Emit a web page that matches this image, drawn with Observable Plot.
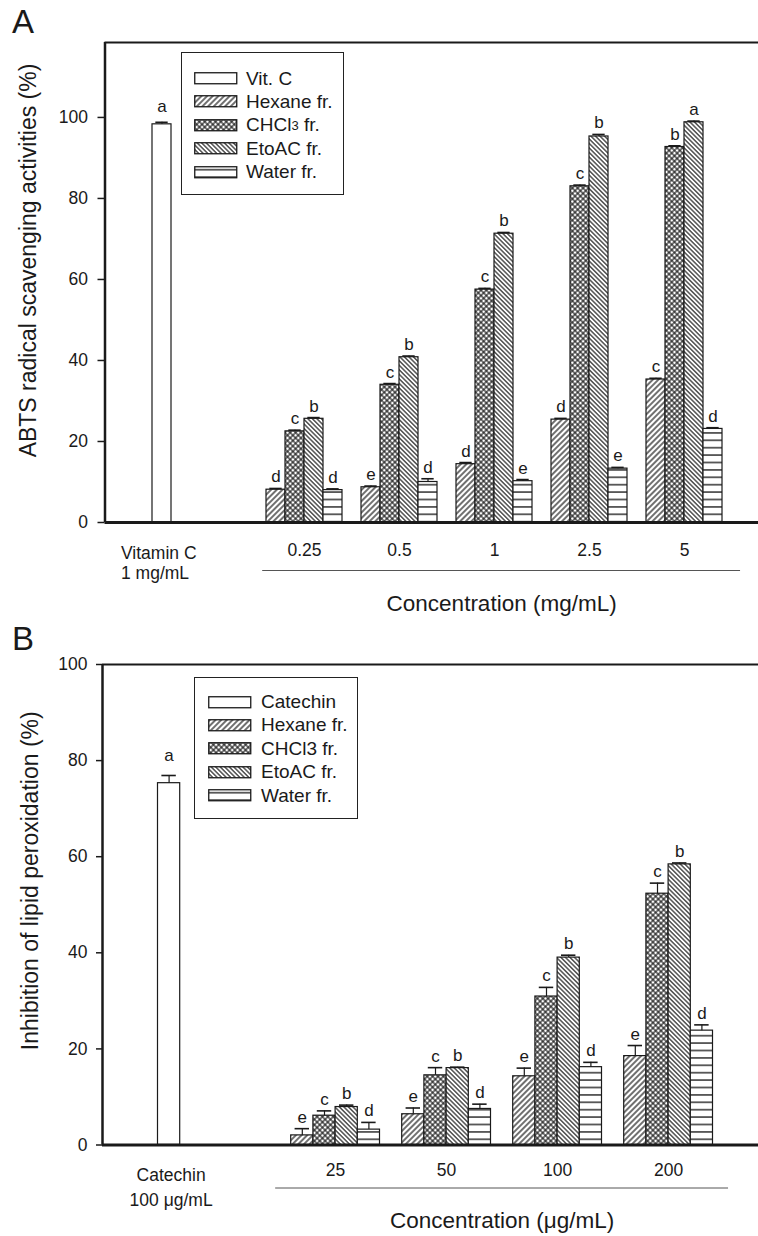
<!DOCTYPE html>
<html><head><meta charset="utf-8">
<script src="https://cdn.jsdelivr.net/npm/d3@7"></script>
<script src="https://cdn.jsdelivr.net/npm/@observablehq/plot@0.6"></script>
<style>
body{margin:0;background:#fff;font-family:"Liberation Sans",Arial,sans-serif;color:#1a1a1a}
#root{position:relative;width:758px;height:1236px;overflow:hidden;background:#fff}
.panel{position:absolute;left:0}
.plabel{position:absolute;left:12px;font-size:33px;line-height:33px}
.legend{position:absolute;border:1.5px solid #222;background:#fff;box-sizing:border-box}
.row{position:absolute;height:22px;display:flex;align-items:center;font-size:19px;white-space:nowrap}
.row svg{display:block}
</style></head><body>
<svg width="0" height="0" style="position:absolute">
<defs>
<pattern id="p-hex" patternUnits="userSpaceOnUse" width="4" height="4" patternTransform="rotate(45)">
<rect width="4" height="4" fill="#fff"/><line x1="2" y1="0" x2="2" y2="4" stroke="#111" stroke-width="1.2"/>
</pattern>
<pattern id="p-etoac" patternUnits="userSpaceOnUse" width="3.2" height="3.2" patternTransform="rotate(-45)">
<rect width="3.2" height="3.2" fill="#fff"/><line x1="1.6" y1="0" x2="1.6" y2="3.2" stroke="#111" stroke-width="1.1"/>
</pattern>
<pattern id="p-chcl3" patternUnits="userSpaceOnUse" width="3.8" height="3.8" patternTransform="rotate(45)">
<rect width="3.8" height="3.8" fill="#fff"/><line x1="1.9" y1="0" x2="1.9" y2="3.8" stroke="#111" stroke-width="1.1"/><line x1="0" y1="1.9" x2="3.8" y2="1.9" stroke="#111" stroke-width="1.1"/>
</pattern>
<pattern id="p-water" patternUnits="userSpaceOnUse" width="8" height="7.4">
<rect width="8" height="7.4" fill="#fff"/><line x1="0" y1="3.7" x2="8" y2="3.7" stroke="#111" stroke-width="1.3"/>
</pattern>
</defs>
</svg>
<div id="root"></div>
<script>
// ---------- data ----------
const seriesNames = ["Hexane fr.", "CHCl3 fr.", "EtoAC fr.", "Water fr."];
const seriesFills = ["url(#p-hex)", "url(#p-chcl3)", "url(#p-etoac)", "url(#p-water)"];

// Panel A: ABTS radical scavenging (%)
const concA = ["0.25", "0.5", "1", "2.5", "5"];
const hexaneA = [8.1, 8.7, 14.4, 25.4, 35.3];
const chcl3A  = [22.5, 34.0, 57.5, 83.0, 92.7];
const etoacA  = [25.6, 40.8, 71.3, 95.3, 98.8];
const waterA  = [8.0, 10.0, 10.2, 13.3, 23.1];
const hexaneErrA = [0.3, 0.3, 0.4, 0.3, 0.3];
const chcl3ErrA  = [0.3, 0.3, 0.3, 0.3, 0.3];
const etoacErrA  = [0.3, 0.3, 0.3, 0.5, 0.3];
const waterErrA  = [0.3, 0.8, 0.4, 0.3, 0.3];
const hexaneLetA = ["d", "e", "d", "d", "c"];
const chcl3LetA  = ["c", "c", "c", "c", "b"];
const etoacLetA  = ["b", "b", "b", "b", "a"];
const waterLetA  = ["d", "d", "e", "e", "d"];
const vitC = 98.3, vitCErr = 0.5, vitCLetter = "a";

// Panel B: Inhibition of lipid peroxidation (%)
const concB = ["25", "50", "100", "200"];
const hexaneB = [2.0, 6.4, 14.3, 18.5];
const chcl3B  = [6.1, 14.5, 30.9, 52.3];
const etoacB  = [7.9, 16.0, 39.0, 58.4];
const waterB  = [3.2, 7.5, 16.2, 23.8];
const hexaneErrB = [1.4, 1.3, 1.7, 2.2];
const chcl3ErrB  = [1.0, 1.6, 1.9, 2.2];
const etoacErrB  = [0.4, 0.2, 0.5, 0.3];
const waterErrB  = [1.5, 1.0, 1.0, 1.2];
const hexaneLetB = ["e", "e", "e", "e"];
const chcl3LetB  = ["c", "c", "c", "c"];
const etoacLetB  = ["b", "b", "b", "b"];
const waterLetB  = ["d", "d", "d", "d"];
const catechin = 75.3, catechinErr = 1.6, catechinLetter = "a";

const yTicks = [0, 20, 40, 60, 80, 100];

// ---------- drawing ----------
const FONT = '"Liberation Sans", Arial, sans-serif';
const BAR_W = 0.2, GROUP0 = 1.5, CAP = 0.065, X_MIN = -0.6;

function panel(o) {
  const rows = [];
  o.values.forEach((arr, j) => arr.forEach((v, i) => rows.push({
    x: GROUP0 + i + (j - 1.5) * BAR_W, value: v, err: o.errs[j][i], letter: o.letters[j][i], fill: seriesFills[j]
  })));
  const ref = {x: 0, value: o.ref, err: o.refErr, letter: o.refLetter, fill: "#fff"};
  const all = [ref, ...rows];
  const n = o.conc.length;
  const sepX1 = GROUP0 + o.sepL, sepX2 = GROUP0 + n - 1 + o.sepR;
  const top = d => d.value + d.err;
  return Plot.plot({
    width: 758, height: o.height,
    marginLeft: o.marginLeft, marginRight: 0, marginTop: o.marginTop, marginBottom: o.marginBottom,
    style: {fontFamily: FONT, fontSize: "17px", color: "#1a1a1a", background: "#fff", overflow: "visible"},
    x: {domain: [X_MIN, o.xMax], axis: null},
    y: {domain: [0, o.yMax], axis: null},
    color: {type: "identity"},
    marks: [
      Plot.rect(all, {x1: d => d.x - BAR_W / 2, x2: d => d.x + BAR_W / 2, y1: () => 0, y2: "value",
        fill: "fill", stroke: "#1a1a1a", strokeWidth: 1.2}),
      Plot.ruleX(all, {x: "x", y1: "value", y2: top, stroke: "#1a1a1a", strokeWidth: 1.2}),
      Plot.ruleY(all, {y: top, x1: d => d.x - CAP, x2: d => d.x + CAP, stroke: "#1a1a1a", strokeWidth: 1.6}),
      Plot.text(rows, {x: "x", y: top, text: "letter", lineAnchor: "bottom", dy: -6, fontSize: 17}),
      Plot.text([ref], {x: "x", y: top, text: "letter", lineAnchor: "bottom", dy: o.refDy, fontSize: 17}),
      Plot.axisY({ticks: yTicks, tickSize: o.tickSize, tickPadding: o.tickPadding, fontSize: 17.5, strokeWidth: 1.5, label: null}),
      Plot.ruleX([X_MIN], {y1: () => 0, y2: () => o.yMax, stroke: "#1a1a1a", strokeWidth: 2.5}),
      Plot.ruleY([0], {stroke: "#1a1a1a", strokeWidth: 3}),
      Plot.ruleY([o.yMax], {stroke: "#1a1a1a", strokeWidth: 2}),
      Plot.text(o.conc, {x: (d, i) => GROUP0 + i, y: () => 0, text: d => d, dy: o.tickDy, lineAnchor: "middle", fontSize: 17.5}),
      Plot.text([o.refLabel], {x: () => 0, y: () => 0, text: d => d, dy: o.refLabelDy, dx: o.refLabelDx,
        textAnchor: o.refAnchor, lineAnchor: "middle", lineHeight: o.refLineHeight, fontSize: o.refLabelSize}),
      Plot.ruleY([0], {x1: () => sepX1, x2: () => sepX2, dy: o.sepDy, stroke: "#555", strokeWidth: 1}),
      Plot.text([o.xLabel], {x: () => (sepX1 + sepX2) / 2, y: () => 0, text: d => d, dy: o.xLabelDy, lineAnchor: "middle", fontSize: 22.5}),
      Plot.text([o.yLabel], {frameAnchor: "left", text: d => d, rotate: -90, dx: o.yLabelDx, dy: o.yLabelDy,
        textAnchor: "middle", lineAnchor: "middle", fontSize: 23})
    ]
  });
}

const root = document.getElementById("root");

function place(el, top) { el.classList.add("panel"); el.style.top = top + "px"; root.appendChild(el); }

const svgA = panel({
  values: [hexaneA, chcl3A, etoacA, waterA], errs: [hexaneErrA, chcl3ErrA, etoacErrA, waterErrA],
  letters: [hexaneLetA, chcl3LetA, etoacLetA, waterLetA], conc: concA,
  ref: vitC, refErr: vitCErr, refLetter: vitCLetter, refDy: -10,
  refLabel: "Vitamin C\n1 mg/mL", refAnchor: "start", refLabelDx: -41, refLabelDy: 40, refLineHeight: 1.15, refLabelSize: 17.5,
  height: 625, marginTop: 42, marginBottom: 103, marginLeft: 104.5, xMax: (758 - 104.5) / 95 + X_MIN,
  yMax: 118.5, tickSize: 7, tickPadding: 10, tickDy: 28, sepL: -0.44, sepR: 0.59, sepDy: 48, xLabelDy: 81,
  xLabel: "Concentration (mg/mL)", yLabel: "ABTS radical scavenging activities (%)", yLabelDx: -76, yLabelDy: -22
});
place(svgA, 0);

const svgB = panel({
  values: [hexaneB, chcl3B, etoacB, waterB], errs: [hexaneErrB, chcl3ErrB, etoacErrB, waterErrB],
  letters: [hexaneLetB, chcl3LetB, etoacLetB, waterLetB], conc: concB,
  ref: catechin, refErr: catechinErr, refLetter: catechinLetter, refDy: -14,
  refLabel: "Catechin\n100 \u03bcg/mL", refAnchor: "middle", refLabelDx: 2, refLabelDy: 40.5, refLineHeight: 1.4, refLabelSize: 17.5,
  height: 611, marginTop: 39, marginBottom: 91.5, marginLeft: 102, xMax: (758 - 102) / 111 + X_MIN,
  yMax: 100, tickSize: 6, tickPadding: 9, tickDy: 25.5, sepL: -0.54, sepR: 0.54, sepDy: 43, xLabelDy: 75.5,
  xLabel: "Concentration (\u03bcg/mL)", yLabel: "Inhibition of lipid peroxidation (%)", yLabelDx: -72, yLabelDy: -24
});
place(svgB, 625);

// panel letters
for (const [t, top] of [["A", 5], ["B", 622]]) {
  const d = document.createElement("div"); d.className = "plabel"; d.textContent = t; d.style.top = top + "px"; root.appendChild(d);
}

// legends
function legend(left, top, w, h, firstRowRel, swLeft, txtLeft, refName, names) {
  const box = document.createElement("div");
  box.className = "legend";
  Object.assign(box.style, {left: left + "px", top: top + "px", width: w + "px", height: h + "px"});
  const fills = ["#fff", ...seriesFills];
  names = [refName, ...names];
  names.forEach((name, i) => {
    const cy = firstRowRel + 23.4 * i;
    const sw = document.createElementNS("http://www.w3.org/2000/svg", "svg");
    sw.setAttribute("width", 44); sw.setAttribute("height", 13);
    sw.style.position = "absolute"; sw.style.left = swLeft + "px"; sw.style.top = (cy - 6.5) + "px";
    const r = document.createElementNS("http://www.w3.org/2000/svg", "rect");
    r.setAttribute("x", 0.75); r.setAttribute("y", 0.75); r.setAttribute("width", 42); r.setAttribute("height", 11);
    r.setAttribute("fill", fills[i]); r.setAttribute("stroke", "#1a1a1a"); r.setAttribute("stroke-width", 1.3);
    sw.appendChild(r); box.appendChild(sw);
    const t = document.createElement("div");
    t.className = "row"; t.style.left = txtLeft + "px"; t.style.top = (cy - 11) + "px";
    t.innerHTML = name;
    box.appendChild(t);
  });
  root.appendChild(box);
}
legend(181, 52, 163, 143, 25.5, 12, 64, "Vit. C",
  ["Hexane fr.", "CHCl<span style=\"font-size:13px;line-height:1\">3</span>&nbsp;fr.", "EtoAC fr.", "Water fr."]);
legend(194, 677, 164, 142, 24, 13, 66, "Catechin", seriesNames);
</script>
</body></html>
